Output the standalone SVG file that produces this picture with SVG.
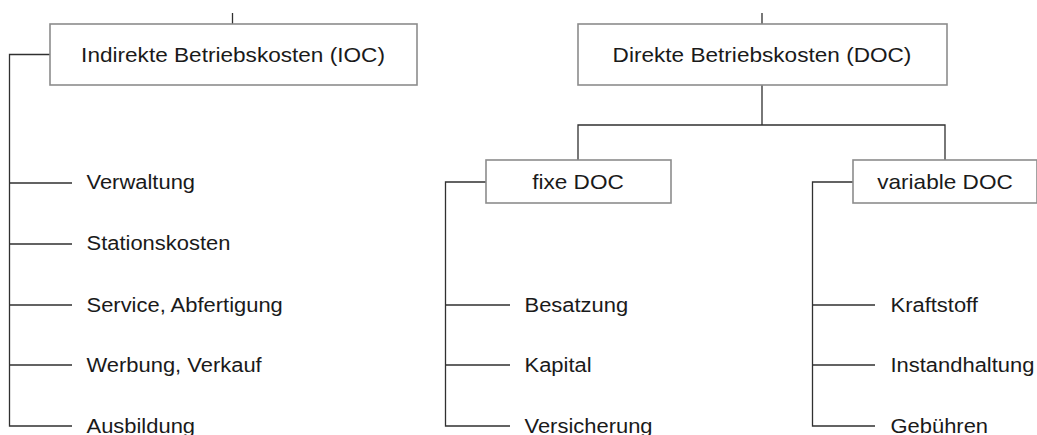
<svg xmlns="http://www.w3.org/2000/svg" width="1037" height="435" viewBox="0 0 1037 435">
<style>
.box{fill:#fff;stroke:#8c8c8c;stroke-width:1.6}
.ln{fill:none;stroke:#303030;stroke-width:1.3}
text{font-family:"Liberation Sans",Arial,sans-serif;fill:#1a1a1a}
.t{font-size:21px}
.b{font-size:20px;text-anchor:middle}
</style>
<rect width="1037" height="435" fill="#fff"/>
<g id="connectors">
<path class="ln" d="M232.5,13 V24"/>
<path class="ln" d="M762,13 V24"/>
<path class="ln" d="M50,54.5 H9.5 V426 H72 M9.5,183 H72 M9.5,244 H72 M9.5,305 H72 M9.5,365 H72"/>
<path class="ln" d="M762,85 V125 M578,160 V125 H945 V160"/>
<path class="ln" d="M486,182 H445.5 V426 H510 M445.5,305 H510 M445.5,365 H510"/>
<path class="ln" d="M853,182 H812.5 V426 H875 M812.5,305 H875 M812.5,365 H875"/>
</g>
<g id="ioc">
<rect class="box" x="50" y="24" width="367" height="61"/>
<text class="b" transform="translate(233,62) scale(1.13,1)">Indirekte Betriebskosten (IOC)</text>
</g>
<g id="doc">
<rect class="box" x="578" y="24" width="369" height="61"/>
<text class="b" transform="translate(762,62) scale(1.13,1)">Direkte Betriebskosten (DOC)</text>
</g>
<g id="fixe">
<rect class="box" x="486" y="160" width="185" height="43"/>
<text class="b" transform="translate(578,189) scale(1.13,1)">fixe DOC</text>
</g>
<g id="variable">
<rect class="box" x="853" y="160" width="184" height="43"/>
<text class="b" transform="translate(945,189) scale(1.13,1)">variable DOC</text>
</g>
<g id="ioc-items">
<g id="verwaltung"><text class="t" transform="translate(86.5,189) scale(1.045,1)">Verwaltung</text></g>
<g id="stationskosten"><text class="t" transform="translate(86.5,250) scale(1.045,1)">Stationskosten</text></g>
<g id="service"><text class="t" transform="translate(86.5,311.5) scale(1.045,1)">Service, Abfertigung</text></g>
<g id="werbung"><text class="t" transform="translate(86.5,371.5) scale(1.045,1)">Werbung, Verkauf</text></g>
<g id="ausbildung"><text class="t" transform="translate(86.5,432.5) scale(1.045,1)">Ausbildung</text></g>
</g>
<g id="fixe-items">
<g id="besatzung"><text class="t" transform="translate(524.5,311.5) scale(1.045,1)">Besatzung</text></g>
<g id="kapital"><text class="t" transform="translate(524.5,371.5) scale(1.045,1)">Kapital</text></g>
<g id="versicherung"><text class="t" transform="translate(524.5,432.5) scale(1.045,1)">Versicherung</text></g>
</g>
<g id="variable-items">
<g id="kraftstoff"><text class="t" transform="translate(890.5,311.5) scale(1.045,1)">Kraftstoff</text></g>
<g id="instandhaltung"><text class="t" transform="translate(890.5,371.5) scale(1.045,1)">Instandhaltung</text></g>
<g id="gebuehren"><text class="t" transform="translate(890.5,432.5) scale(1.045,1)">Gebühren</text></g>
</g>
</svg>
